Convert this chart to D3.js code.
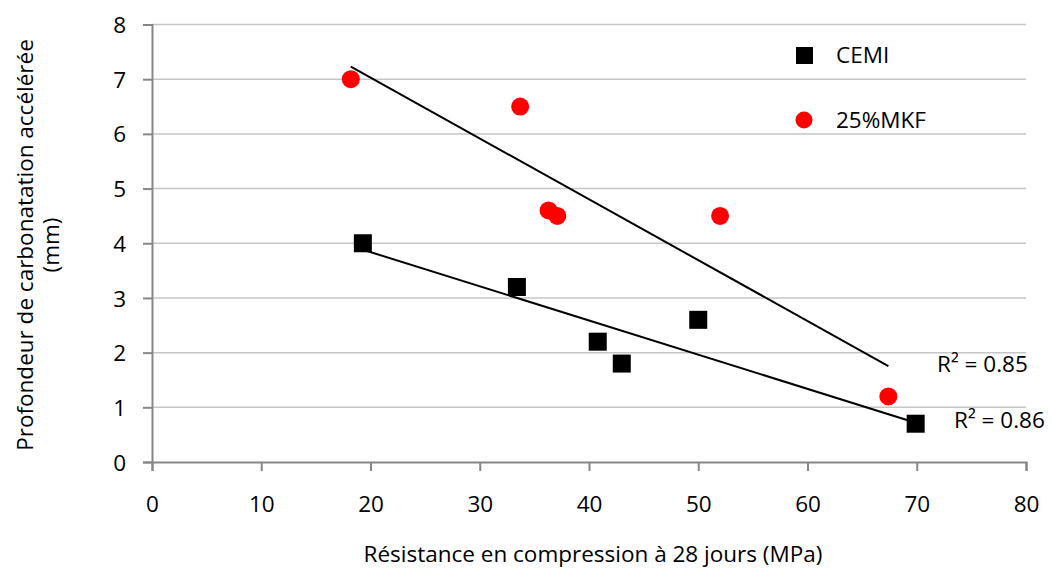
<!DOCTYPE html>
<html><head><meta charset="utf-8">
<script src="https://cdn.jsdelivr.net/npm/d3@7"></script>
<style>body{margin:0;background:#fff}svg{display:block}text{font-family:"Open Sans",sans-serif;fill:#000}</style>
</head><body><svg id="c" width="1052" height="570"></svg>
<script>
const xTicks = [0,10,20,30,40,50,60,70,80];
const yTicks = [0,1,2,3,4,5,6,7,8];
const cemiX = [19.3,33.4,40.8,43.0,50.0,69.9];
const cemiY = [4.0,3.2,2.2,1.8,2.6,0.7];
const mkfX = [18.2,33.7,36.3,37.1,52.0,67.4];
const mkfY = [7.0,6.5,4.6,4.5,4.5,1.2];
const seriesNames = ["CEMI","25%MKF"];
const r2Labels = ["R² = 0.86","R² = 0.85"];
const xTitle = "Résistance en compression à 28 jours (MPa)";
const yTitle1 = "Profondeur de carbonatation accélérée";
const yTitle2 = "(mm)";

const FS = 22.5;
const svg = d3.select("#c");
const L=152,R=1026,T=24.5,B=462;
const x = d3.scaleLinear().domain([0,80]).range([L,R]);
const y = d3.scaleLinear().domain([0,8]).range([B,T]);

// gridlines
svg.append("g").selectAll("line").data(yTicks.filter(d=>d>0)).join("line")
  .attr("x1",L).attr("x2",R).attr("y1",d=>y(d)).attr("y2",d=>y(d))
  .attr("stroke","#c6c6c6").attr("stroke-width",1.5);

// axes
const gx = svg.append("g").attr("transform",`translate(0,${B})`)
  .call(d3.axisBottom(x).tickValues(xTicks).tickSize(9).tickPadding(0).tickFormat(d3.format("d")));
const gy = svg.append("g").attr("transform",`translate(${L},0)`)
  .call(d3.axisLeft(y).tickValues(yTicks).tickSize(9).tickPadding(17).tickFormat(d3.format("d")));
[gx,gy].forEach(g=>{
  g.select(".domain").attr("stroke","#868686").attr("stroke-width",2);
  g.selectAll(".tick line").attr("stroke","#868686").attr("stroke-width",2);
  g.selectAll(".tick text").attr("font-size",FS).attr("font-family","'Open Sans',sans-serif").attr("fill","#000");
});
gx.selectAll(".tick text").attr("dy",null).attr("y",50);
gy.selectAll(".tick text").attr("dy","0.36em");

// regression lines
function fit(xs,ys){
  const mx=d3.mean(xs), my=d3.mean(ys);
  const sxy=d3.sum(xs,(v,i)=>(v-mx)*(ys[i]-my)), sxx=d3.sum(xs,v=>(v-mx)*(v-mx));
  const b=sxy/sxx, a=my-b*mx;
  const x0=d3.min(xs), x1=d3.max(xs);
  return [[x0,a+b*x0],[x1,a+b*x1]];
}
[[cemiX,cemiY],[mkfX,mkfY]].forEach(([xs,ys])=>{
  const p=fit(xs,ys);
  svg.append("line").attr("x1",x(p[0][0])).attr("y1",y(p[0][1])).attr("x2",x(p[1][0])).attr("y2",y(p[1][1]))
    .attr("stroke","#000").attr("stroke-width",2);
});

// points
const cemi = cemiX.map((v,i)=>[v,cemiY[i]]);
const mkf = mkfX.map((v,i)=>[v,mkfY[i]]);
svg.append("g").selectAll("rect").data(cemi).join("rect")
  .attr("x",d=>x(d[0])-9).attr("y",d=>y(d[1])-9).attr("width",18).attr("height",18).attr("fill","#000");
svg.append("g").selectAll("circle").data(mkf).join("circle")
  .attr("cx",d=>x(d[0])).attr("cy",d=>y(d[1])).attr("r",9).attr("fill","#ff0000");

// legend
svg.append("rect").attr("x",796).attr("y",47).attr("width",17).attr("height",17).attr("fill","#000");
svg.append("text").attr("x",836).attr("y",63).attr("font-size",FS).text(seriesNames[0]);
svg.append("circle").attr("cx",804).attr("cy",120).attr("r",8.5).attr("fill","#ff0000");
svg.append("text").attr("x",836).attr("y",128).attr("font-size",FS).text(seriesNames[1]);

// R2 labels
svg.append("text").attr("x",954).attr("y",428).attr("font-size",FS).text(r2Labels[0]);
svg.append("text").attr("x",937).attr("y",372).attr("font-size",FS).text(r2Labels[1]);

// titles
svg.append("text").attr("x",593).attr("y",562).attr("text-anchor","middle").attr("font-size",FS).text(xTitle);
svg.append("text").attr("transform","translate(33,245) rotate(-90)").attr("text-anchor","middle").attr("font-size",FS).text(yTitle1);
svg.append("text").attr("transform","translate(59,245) rotate(-90)").attr("text-anchor","middle").attr("font-size",FS).text(yTitle2);
</script></body></html>
